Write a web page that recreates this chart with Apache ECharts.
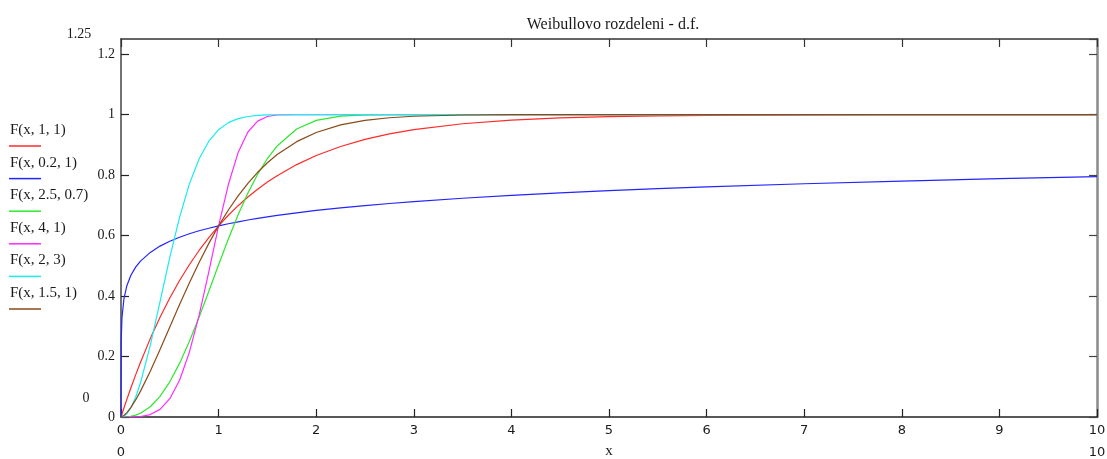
<!DOCTYPE html>
<html>
<head>
<meta charset="utf-8">
<script src="https://cdn.jsdelivr.net/npm/echarts@6/dist/echarts.min.js"></script>
<style>
  html, body { margin: 0; padding: 0; background: #ffffff; }
  #chart { width: 1107px; height: 459px; }
</style>
</head>
<body>
<div id="chart"></div>
<script>
// Sample points along x shared by every curve
const X = [0, 0.002, 0.01, 0.03, 0.06, 0.1, 0.15, 0.2, 0.3, 0.4, 0.5, 0.6, 0.7, 0.8, 0.9, 1,
  1.1, 1.2, 1.3, 1.4, 1.5, 1.6, 1.8, 2, 2.25, 2.5, 2.75, 3, 3.5, 4, 4.5, 5, 5.5, 6, 7, 8, 9, 10];

// Weibull distribution functions F(x, k, lambda)
const F_1_1 = [0, 0.002, 0.0100, 0.0296, 0.0582, 0.0952, 0.1393, 0.1813, 0.2592, 0.3297, 0.3935,
  0.4512, 0.5034, 0.5507, 0.5934, 0.6321, 0.6671, 0.6988, 0.7275, 0.7534, 0.7769, 0.7981, 0.8347,
  0.8647, 0.8946, 0.9179, 0.9361, 0.9502, 0.9698, 0.9817, 0.9889, 0.9933, 0.9959, 0.9975, 0.9991,
  0.9997, 0.9999, 1.0000];
const F_02_1 = [0, 0.2506, 0.3284, 0.3910, 0.4343, 0.4679, 0.4956, 0.5156, 0.5443, 0.5651, 0.5813,
  0.5946, 0.6059, 0.6158, 0.6243, 0.6321, 0.6391, 0.6455, 0.6514, 0.6569, 0.6619, 0.6666, 0.6752,
  0.6830, 0.6915, 0.6991, 0.7060, 0.7122, 0.7233, 0.7327, 0.7410, 0.7483, 0.7550, 0.7609, 0.7714,
  0.7803, 0.7881, 0.7950];
const F_25_07 = [0, 0, 0, 0.0001, 0.0006, 0.0022, 0.0061, 0.0124, 0.0339, 0.0684, 0.1164,
  0.1773, 0.2495, 0.3301, 0.4160, 0.5034, 0.5886, 0.6685, 0.7404, 0.8028, 0.8547, 0.8964, 0.9523,
  0.9809, 0.9951, 0.9990, 0.9998, 1.0000, 1.0000, 1.0000, 1.0000, 1.0000, 1.0000, 1.0000, 1.0000,
  1.0000, 1.0000, 1.0000];
const F_4_1 = [0, 0, 0, 0, 0, 0.0001, 0.0005, 0.0016, 0.0081, 0.0253, 0.0606,
  0.1216, 0.2134, 0.3361, 0.4811, 0.6321, 0.7687, 0.8743, 0.9425, 0.9785, 0.9937, 0.9986, 1.0000,
  1.0000, 1.0000, 1.0000, 1.0000, 1.0000, 1.0000, 1.0000, 1.0000, 1.0000, 1.0000, 1.0000, 1.0000,
  1.0000, 1.0000, 1.0000];
const F_2_3 = [0, 0, 0.0003, 0.0027, 0.0107, 0.0296, 0.0653, 0.1131, 0.2366, 0.3812, 0.5276,
  0.6604, 0.7701, 0.8534, 0.9120, 0.9502, 0.9735, 0.9867, 0.9937, 0.9972, 0.9988, 0.9995, 0.9999,
  1.0000, 1.0000, 1.0000, 1.0000, 1.0000, 1.0000, 1.0000, 1.0000, 1.0000, 1.0000, 1.0000, 1.0000,
  1.0000, 1.0000, 1.0000];
const F_15_1 = [0, 0.0001, 0.0010, 0.0052, 0.0146, 0.0311, 0.0564, 0.0856, 0.1515, 0.2235, 0.2978,
  0.3717, 0.4433, 0.5111, 0.5742, 0.6321, 0.6845, 0.7314, 0.7728, 0.8092, 0.8407, 0.8679, 0.9106,
  0.9409, 0.9658, 0.9808, 0.9895, 0.9945, 0.9986, 0.9997, 0.9999, 1.0000, 1.0000, 1.0000, 1.0000,
  1.0000, 1.0000, 1.0000];

const LEGEND_NAMES = ['F(x, 1, 1)', 'F(x, 0.2, 1)', 'F(x, 2.5, 0.7)', 'F(x, 4, 1)', 'F(x, 2, 3)', 'F(x, 1.5, 1)'];
const SERIES_VALUES = [F_1_1, F_02_1, F_25_07, F_4_1, F_2_3, F_15_1];
const COLORS = ['#ff2a2a', '#2424ff', '#2ee82e', '#ff2cff', '#18ecec', '#8b4a16'];

const X_MIN = 0, X_MAX = 10, Y_MIN = 0, Y_MAX = 1.25;

const serif = 'Liberation Serif, Times New Roman, serif';
const sans = 'DejaVu Sans, Verdana, sans-serif';

const chart = echarts.init(document.getElementById('chart'), null, { renderer: 'canvas' });

const series = SERIES_VALUES.map((ys, i) => ({
  name: LEGEND_NAMES[i],
  type: 'line',
  xAxisIndex: 0,
  yAxisIndex: 0,
  showSymbol: false,
  symbol: 'none',
  data: X.map((x, j) => [x, ys[j]]),
  lineStyle: { color: COLORS[i], width: 1.2 },
  itemStyle: { color: COLORS[i] },
  z: 2 + i,
  animation: false
}));

// legend drawn at the left: name over a short coloured line
const legendGraphics = [];
const LEG_TOP = 130, LEG_STEP = 32.6;
LEGEND_NAMES.forEach((name, i) => {
  const cy = LEG_TOP + i * LEG_STEP;
  legendGraphics.push({
    type: 'text', x: 10, y: cy,
    style: { text: name, font: '15px ' + serif, fill: '#1a1a1a', textAlign: 'left', textVerticalAlign: 'middle' }
  });
  legendGraphics.push({
    type: 'line',
    shape: { x1: 9, y1: cy + 16, x2: 41, y2: cy + 16 },
    style: { stroke: COLORS[i], lineWidth: 1.5 }
  });
});

const limitTexts = [
  { type: 'text', x: 79, y: 34, style: { text: '1.25', font: '14px ' + serif, fill: '#1a1a1a', textAlign: 'center', textVerticalAlign: 'middle' } },
  { type: 'text', x: 86, y: 398, style: { text: '0', font: '14px ' + serif, fill: '#1a1a1a', textAlign: 'center', textVerticalAlign: 'middle' } },
  { type: 'text', x: 121, y: 453, style: { text: '0', font: '13px ' + sans, fill: '#1a1a1a', textAlign: 'center', textVerticalAlign: 'middle' } },
  { type: 'text', x: 1097, y: 453, style: { text: '10', font: '13px ' + sans, fill: '#1a1a1a', textAlign: 'center', textVerticalAlign: 'middle' } }
];

const yFmt = v => {
  const r = Math.round(v * 100) / 100;
  if (r > 1.2 + 1e-9) return '';
  return String(r);
};

chart.setOption({
  backgroundColor: '#ffffff',
  animation: false,
  title: {
    text: 'Weibullovo rozdeleni - d.f.',
    left: 608, top: 12, textAlign: 'center',
    textStyle: { fontFamily: serif, fontSize: 16, fontWeight: 'normal', color: '#1a1a1a' }
  },
  grid: { left: 121, top: 39, right: 10, bottom: 42, containLabel: false, outerBoundsMode: 'none' },
  xAxis: [
    {
      type: 'value', position: 'bottom', min: X_MIN, max: X_MAX, interval: 1,
      name: 'x', nameLocation: 'middle', nameGap: 27,
      nameTextStyle: { fontFamily: serif, fontSize: 15, color: '#1a1a1a' },
      axisLine: { show: true, onZero: false, lineStyle: { color: '#222', width: 1.5 } },
      axisTick: { show: true, inside: true, length: 8, lineStyle: { color: '#222', width: 1.2 } },
      axisLabel: { margin: 7, fontFamily: sans, fontSize: 13, color: '#1a1a1a' },
      splitLine: { show: false }
    },
    {
      type: 'value', position: 'top', min: X_MIN, max: X_MAX, interval: 1,
      axisLine: { show: true, onZero: false, lineStyle: { color: '#333', width: 1.5 } },
      axisTick: { show: true, inside: true, length: 8, lineStyle: { color: '#333', width: 1.2 } },
      axisLabel: { show: false },
      splitLine: { show: false }
    }
  ],
  yAxis: [
    {
      type: 'value', position: 'left', min: Y_MIN, max: Y_MAX, interval: 0.2,
      axisLine: { show: true, onZero: false, lineStyle: { color: '#444', width: 1.5 } },
      axisTick: { show: true, inside: true, length: 8, lineStyle: { color: '#222', width: 1.2 } },
      axisLabel: { margin: 6, fontFamily: serif, fontSize: 14, color: '#1a1a1a', formatter: yFmt, showMaxLabel: false },
      splitLine: { show: false }
    },
    {
      type: 'value', position: 'right', min: Y_MIN, max: Y_MAX, interval: 0.2,
      axisLine: { show: true, onZero: false, lineStyle: { color: '#8a8a8a', width: 2.5 } },
      axisTick: { show: true, inside: true, length: 8, lineStyle: { color: '#444', width: 1.2 } },
      axisLabel: { show: false },
      splitLine: { show: false }
    }
  ],
  series: series,
  graphic: legendGraphics.concat(limitTexts)
});
</script>
</body>
</html>
